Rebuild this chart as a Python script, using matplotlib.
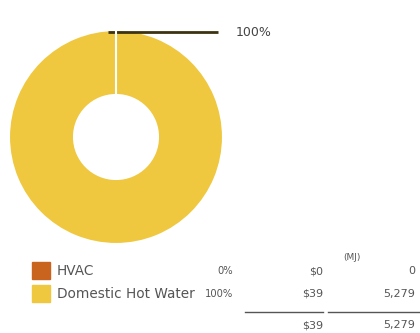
import matplotlib.pyplot as plt
import numpy as np

plt.rcParams['font.family'] = ['DejaVu Sans']

categories = ['HVAC', 'Domestic Hot Water']
cost = [0, 39]
energy_mj = [0, 5279]
colors = ['#c8641e', '#efc83f']

total_cost = sum(cost)
total_mj = sum(energy_mj)
pct = [100.0 * c / total_cost for c in cost]

fig = plt.figure(figsize=(4.2, 3.33), dpi=100)
ax = fig.add_axes([0, 0, 1, 1])

# donut, starting from the top (y axis is flipped)
wedges, _ = ax.pie(cost, colors=colors, startangle=-90, center=(116, 137),
                   radius=107, frame=True,
                   wedgeprops=dict(width=65, edgecolor='white', linewidth=1.5))
# the empty HVAC slice shows up as a thin white seam on top of the ring
wedges[0].set_zorder(5)
ax.set_xlim(0, 420)
ax.set_ylim(333, 0)
ax.set_aspect('equal')
ax.axis('off')

# leader line + label for the big slice
ax.plot([108, 218], [32, 32], color='#3d3312', lw=2, solid_capstyle='butt')
ax.text(236, 32, '%d%%' % round(pct[1]), fontsize=9, color='#444444',
        va='center', ha='left')

# legend table
row_y = [271, 294]
txt = '#555555'
for i, name in enumerate(categories):
    y = row_y[i]
    ax.add_patch(plt.Rectangle((32, y - 9), 18, 17, color=colors[i]))
    ax.text(57, y, name, fontsize=9.8, color=txt, va='center', ha='left')
    ax.text(233, y, '%d%%' % round(pct[i]), fontsize=7.2, color=txt,
            va='center', ha='right')
    ax.text(323, y, '$%d' % cost[i], fontsize=8, color=txt,
            va='center', ha='right')
    ax.text(415, y, '{:,}'.format(energy_mj[i]), fontsize=8, color=txt,
            va='center', ha='right')

ax.text(352, 258, '(MJ)', fontsize=6.5, color=txt, va='center', ha='center')
ax.plot([245, 323], [312, 312], color='#555555', lw=1)
ax.plot([328, 420], [312, 312], color='#555555', lw=1)
ax.text(323, 325, '$%d' % total_cost, fontsize=8, color=txt,
        va='center', ha='right')
ax.text(415, 325, '{:,}'.format(total_mj), fontsize=8, color=txt,
        va='center', ha='right')

fig.savefig('out.png', dpi=100)
